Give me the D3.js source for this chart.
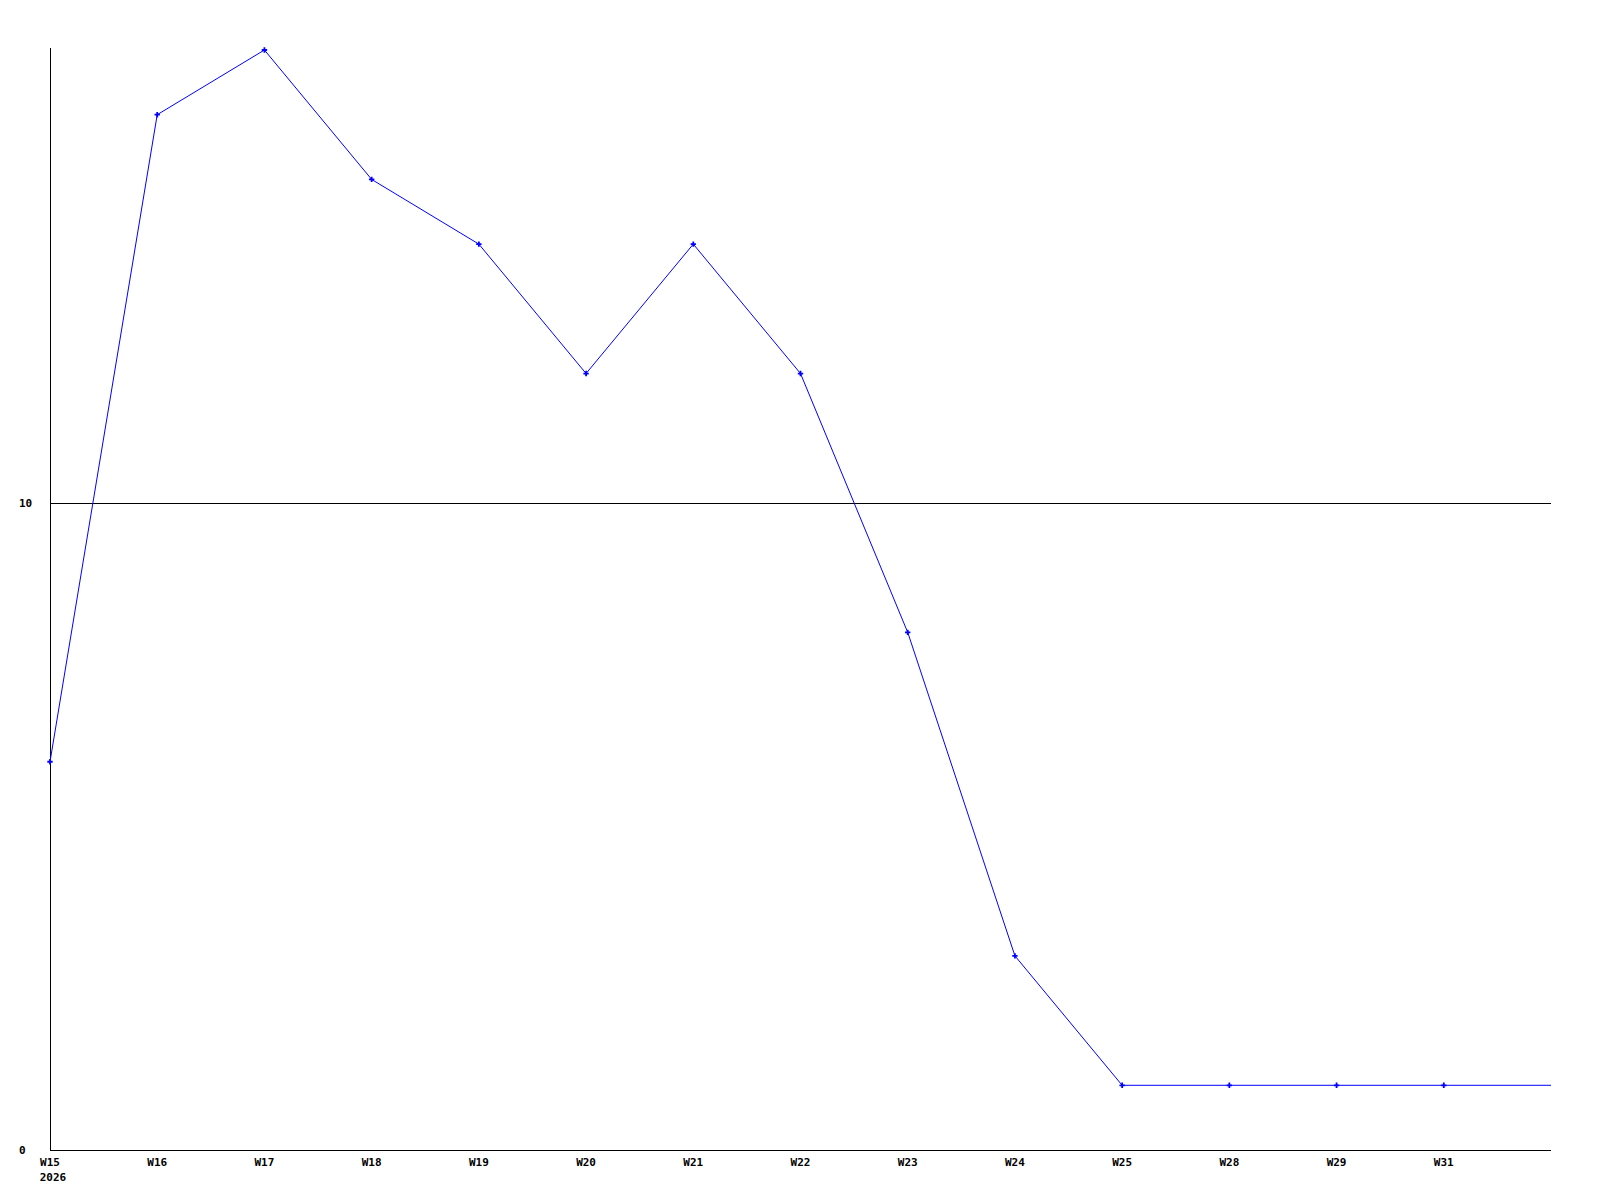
<!DOCTYPE html>
<html><head><meta charset="utf-8">
<script src="https://cdn.jsdelivr.net/npm/d3@7"></script>
<style>
html,body{margin:0;padding:0;background:#fff;}
text{font-family:"DejaVu Sans Mono","Liberation Mono",monospace;font-weight:bold;font-size:11px;fill:#000;}
</style></head>
<body>
<svg id="chart" width="1600" height="1200"></svg>
<script>
const categories = ["W15","W16","W17","W18","W19","W20","W21","W22","W23","W24","W25","W28","W29","W31",""];
const values = [6,16,17,15,14,12,14,12,8,3,1,1,1,1,1];
const showMarker = [1,1,1,1,1,1,1,1,1,1,1,1,1,1,0];
const yTicks = [0,10];
const yearLabel = "2026";

(function(){
const svg = d3.select("#chart");
const mLeft = 50, mRight = 1551, mTop = 50, mBottom = 1150;

const x = d3.scalePoint().domain(d3.range(categories.length)).range([mLeft, mRight]);
const y = d3.scaleLinear().domain([0,17]).range([mBottom, mTop]);

// gridline at 10
svg.append("g").selectAll("line").data(yTicks.filter(d=>d>0)).join("line")
  .attr("x1", mLeft).attr("x2", mRight)
  .attr("y1", d=>Math.round(y(d))+0.5).attr("y2", d=>Math.round(y(d))+0.5)
  .attr("stroke","#000").attr("stroke-width",1);

// axes
svg.append("line").attr("x1",mLeft+0.5).attr("x2",mLeft+0.5).attr("y1",mTop-2).attr("y2",mBottom).attr("stroke","#000");
svg.append("line").attr("x1",mLeft).attr("x2",mRight).attr("y1",mBottom+0.5).attr("y2",mBottom+0.5).attr("stroke","#000");

// y labels
svg.append("g").selectAll("text").data(yTicks).join("text")
  .attr("x", 19).attr("y", d=>y(d)+4).attr("text-anchor","start").text(d=>d);

// x labels
svg.append("g").selectAll("text").data(categories.map((c,i)=>({c,i})).filter(d=>d.c)).join("text")
  .attr("x", d=>x(d.i)).attr("y", 1166).attr("text-anchor","middle").text(d=>d.c);
svg.append("text").attr("x", x(0)+3).attr("y", 1181).attr("text-anchor","middle").text(yearLabel);

// line
const line = d3.line().x((d,i)=>x(i)).y(d=>y(d));
svg.append("path").datum(values).attr("d", line)
  .attr("fill","none").attr("stroke","#0000ff").attr("stroke-width",1);

// markers
svg.append("g").selectAll("path").data(values.map((v,i)=>({v,i})).filter(d=>showMarker[d.i])).join("path")
  .attr("transform", d=>`translate(${x(d.i)},${y(d.v)})`)
  .attr("d", d3.symbol(d3.symbolCross, 16))
  .attr("fill","#0000ff");
})();
</script>
</body></html>
